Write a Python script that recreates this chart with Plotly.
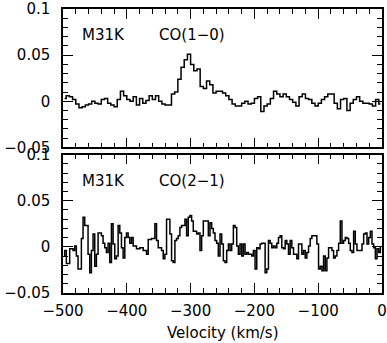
import numpy as np
import plotly.graph_objects as go
from plotly.subplots import make_subplots

# CO(1-0) spectrum, 5 km/s channels starting at -500 km/s
co10_start = -500.0
co10_width = 5.0
co10_ta = [
    0.003, 0.006, 0.005, 0.002, -0.003, -0.007, -0.006, -0.004, -0.003, 0.000,
    -0.002, -0.003, 0.002, 0.003, -0.002, -0.004, -0.006, 0.002, 0.011, 0.006,
    0.002, 0.000, 0.005, -0.004, 0.003, -0.002, 0.001, 0.006, 0.002, 0.006,
    0.000, -0.003, -0.004, -0.004, 0.008, 0.010, 0.024, 0.037, 0.045, 0.051,
    0.040, 0.033, 0.035, 0.016, 0.014, 0.022, 0.018, 0.009, 0.011, 0.011,
    0.009, 0.006, 0.002, -0.003, -0.005, -0.005, -0.002, 0.000, -0.003, -0.002,
    0.003, 0.005, -0.011, -0.005, -0.003, 0.003, 0.011, 0.008, 0.005, 0.008,
    0.005, 0.002, -0.001, -0.005, 0.005, 0.008, 0.003, 0.002, -0.002, -0.005,
    -0.002, 0.002, 0.005, 0.008, 0.008, -0.002, -0.008, 0.002, 0.003, -0.010,
    -0.002, 0.002, 0.005, 0.000, -0.002, -0.002, -0.003, -0.005, 0.002, -0.003,
]

# CO(2-1) spectrum, 2.62 km/s channels starting at -500 km/s
co21_start = -500.0
co21_width = 2.618
co21_ta = [
    -0.010, -0.004, -0.018, -0.018, -0.002, -0.002, -0.004, 0.001, -0.010, -0.024,
    -0.024, 0.009, 0.032, 0.023, 0.023, -0.008, -0.028, -0.004, 0.014, -0.021,
    -0.008, 0.015, 0.015, 0.012, 0.004, -0.001, -0.006, 0.004, -0.017, 0.025,
    0.003, -0.013, -0.010, 0.023, 0.015, -0.001, -0.012, 0.010, 0.015, 0.010,
    0.004, 0.010, 0.001, 0.001, -0.002, -0.002, -0.001, -0.001, -0.004,
    -0.004, -0.008, 0.008, 0.008, 0.009, 0.009, 0.025, 0.007, -0.001, -0.001,
    -0.004, -0.013, -0.008, 0.030, 0.030, 0.014, -0.015, -0.017, 0.007, 0.009,
    0.012, 0.021, 0.023, 0.023, 0.030, 0.012, 0.032, 0.034, 0.028, 0.017,
    0.017, 0.014, 0.015, -0.004, 0.012, 0.028, 0.028, 0.028, 0.012, 0.026,
    0.020, 0.015, 0.007, 0.004, -0.010, 0.014, 0.003, -0.015,
    -0.017, -0.004, 0.003, -0.004, 0.003, 0.023, 0.021, 0.001, -0.008, 0.003,
    -0.010, 0.003, -0.008, -0.006, -0.008, -0.008, -0.010, -0.004, -0.024, -0.001,
    -0.002, 0.003, 0.004, 0.004, -0.028, -0.024, 0.007, 0.004, -0.001, 0.001,
    -0.001, 0.004, 0.010, 0.012, -0.001, -0.002, 0.007, 0.003, -0.008, 0.007,
    -0.001, -0.008, -0.008, -0.013, 0.003, 0.003, -0.008, -0.004,
    -0.012, -0.006, 0.001, 0.009, 0.012, 0.012, 0.012, 0.003, -0.024, -0.021,
    -0.026, -0.010, -0.026, -0.012, -0.001, -0.001, -0.004, -0.012, -0.010, -0.004,
    0.004, 0.028, 0.004, 0.007, 0.010, 0.009, 0.004, -0.004, -0.006, 0.017,
    0.003, -0.004, -0.004, -0.004, 0.003, 0.014, 0.015, 0.003, 0.010, 0.017,
    0.003, -0.001, -0.013, -0.002, -0.006, -0.001,
]

y_ticks = [-0.05, 0, 0.05, 0.1]
y_ticktext = ["\u22120.05", "0", "0.05", "0.1"]
x_ticks = [-500, -400, -300, -200, -100, 0]

v10 = co10_start + co10_width * (np.arange(len(co10_ta)) + 0.5)
v21 = co21_start + co21_width * (np.arange(len(co21_ta)) + 0.5)

font = dict(family="DejaVu Sans", size=15, color="black")

fig = make_subplots(rows=2, cols=1, shared_xaxes=False, vertical_spacing=0.025)
fig.add_trace(go.Scatter(x=v10, y=co10_ta, mode="lines", line_shape="hvh",
                         line=dict(color="black", width=1.5)), row=1, col=1)
fig.add_trace(go.Scatter(x=v21, y=co21_ta, mode="lines", line_shape="hvh",
                         line=dict(color="black", width=1.5)), row=2, col=1)

axis_common = dict(showline=True, linecolor="black", linewidth=1.5, mirror="allticks",
                   ticks="inside", tickcolor="black", tickwidth=1.2, showgrid=False,
                   zeroline=False, tickfont=font, automargin=False)

for r in (1, 2):
    fig.update_xaxes(range=[-500, 0], tickvals=x_ticks, ticklen=10,
                     minor=dict(ticks="inside", ticklen=5, dtick=20, tickcolor="black",
                                tickwidth=1.2, showgrid=False),
                     showticklabels=(r == 2), ticklabelstandoff=3,
                     **axis_common, row=r, col=1)
    fig.update_yaxes(range=[-0.05, 0.1], tickvals=y_ticks, ticktext=y_ticktext, ticklen=10,
                     minor=dict(ticks="inside", ticklen=5, dtick=0.01, tickcolor="black",
                                tickwidth=1.2, showgrid=False),
                     ticklabelstandoff=8, **axis_common, row=r, col=1)

# x axis title, placed below the tick labels
fig.add_annotation(text="Velocity (km/s)", x=0.5, y=-0.14, xref="x2 domain", yref="paper",
                   xanchor="center", yanchor="middle", showarrow=False, font=font)

for yref, line in (("y domain", "CO(1\u22120)"), ("y2 domain", "CO(2\u22121)")):
    xref = "x domain" if yref == "y domain" else "x2 domain"
    fig.add_annotation(text="M31K", x=0.053, y=0.81, xref=xref, yref=yref,
                       xanchor="left", yanchor="middle", showarrow=False, font=font)
    fig.add_annotation(text=line, x=0.295, y=0.81, xref=xref, yref=yref,
                       xanchor="left", yanchor="middle", showarrow=False, font=font)

fig.update_layout(width=387, height=343, margin=dict(l=63, r=5, t=9, b=50),
                  paper_bgcolor="white", plot_bgcolor="white", showlegend=False,
                  font=font)
# drop the page's default body margin so the figure sits at the window corner
fig.write_html("out.html", config={"displayModeBar": False},
               post_script="document.body.style.margin='0px';")
